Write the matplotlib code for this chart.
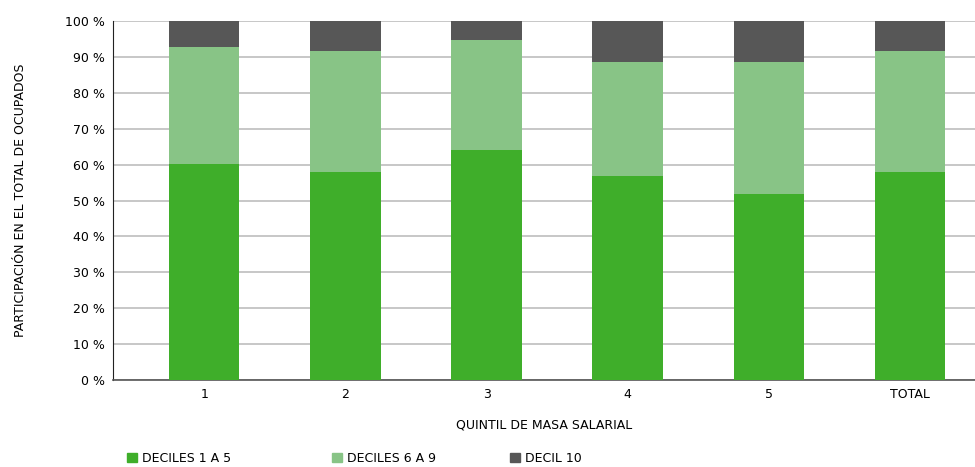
import numpy as np
import matplotlib
matplotlib.use("Agg")
import matplotlib.pyplot as plt
from matplotlib.patches import Patch

plt.rcParams['font.family'] = ['Liberation Sans Narrow', 'DejaVu Sans']

# data (share of employed, %)
categories = ['1', '2', '3', '4', '5', 'TOTAL']
deciles_1_5 = [60.2, 57.9, 64.1, 56.8, 51.8, 57.9]
deciles_6_9 = [32.6, 33.7, 30.6, 31.8, 36.8, 33.7]
decil_10 = [7.2, 8.4, 5.3, 11.4, 11.4, 8.4]
series_names = ['DECILES 1 A 5', 'DECILES 6 A 9', 'DECIL 10']
colors = ['#3fae2a', '#88c486', '#575757']

fig = plt.figure(figsize=(9.75, 4.67), dpi=100)
ax = fig.add_axes([0.116, 0.186, 0.884, 0.769])

x = np.arange(len(categories))
bottom = np.zeros(len(categories))
for vals, col in zip([deciles_1_5, deciles_6_9, decil_10], colors):
    ax.bar(x, vals, width=0.5, bottom=bottom, color=col, zorder=3)
    bottom += np.array(vals)

ax.set_ylim(0, 100)
ax.set_xlim(-0.645, 5.46)
ax.set_yticks(np.arange(0, 101, 10))
ax.set_yticklabels([f'{v} %' for v in range(0, 101, 10)], fontsize=9)
ax.set_xticks(x)
ax.set_xticklabels(categories, fontsize=9)
ax.tick_params(axis='both', length=0, pad=6)
ax.yaxis.grid(True, color='#bdbdbd', linewidth=1.2, zorder=0)
ax.set_axisbelow(True)

for s in ['top', 'right']:
    ax.spines[s].set_visible(False)
ax.spines['left'].set_color('#222222')
ax.spines['bottom'].set_color('#555555')
ax.spines['bottom'].set_linewidth(1.2)

ax.set_ylabel('PARTICIPACIÓN EN EL TOTAL DE OCUPADOS', fontsize=9, va='center')
ax.yaxis.set_label_coords(-0.108, 0.5)
ax.set_xlabel('QUINTIL DE MASA SALARIAL', fontsize=9, va='center')
ax.xaxis.set_label_coords(0.5, -0.125)

# legend entries placed individually along the bottom
leg_x = [0.130, 0.341, 0.523]
for name, col, lx in zip(series_names, colors, leg_x):
    leg = fig.legend(handles=[Patch(color=col)], labels=[name], loc='center left',
                     bbox_to_anchor=(lx, 0.019), frameon=False, fontsize=9,
                     handlelength=0.8, handleheight=0.8, handletextpad=0.4,
                     borderaxespad=0, borderpad=0)

fig.savefig('out.png', dpi=100)
